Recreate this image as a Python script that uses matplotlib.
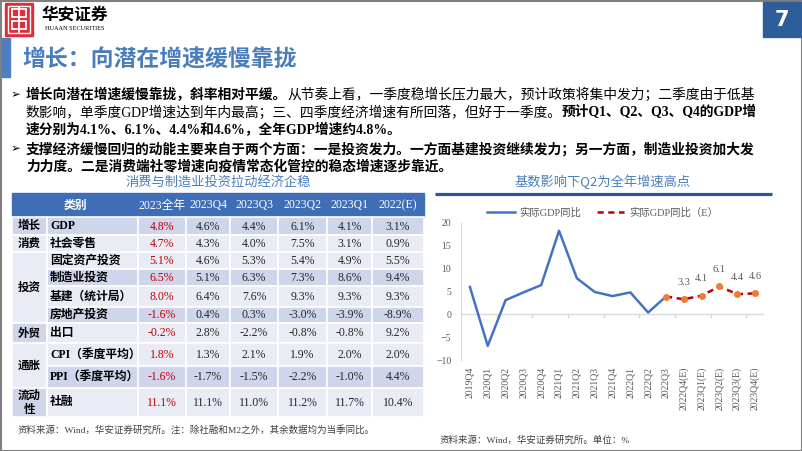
import matplotlib
matplotlib.use("Agg")
import matplotlib.pyplot as plt
from matplotlib.patches import Rectangle

CJK = "Noto Sans CJK SC"
MIX = ["Liberation Serif", "Noto Sans CJK SC"]
plt.rcParams["font.family"] = MIX

# ---- data ----
bullet_lines = [
    [("增长向潜在增速缓慢靠拢，斜率相对平缓。", True),
     ("从节奏上看，一季度稳增长压力最大，预计政策将集中发力；二季度由于低基", False)],
    [("数影响，单季度GDP增速达到年内最高；三、四季度经济增速有所回落，但好于一季度。", False),
     ("预计Q1、Q2、Q3、Q4的GDP增", True)],
    [("速分别为4.1%、6.1%、4.4%和4.6%，全年GDP增速约4.8%。", True)],
    [("支撑经济缓慢回归的动能主要来自于两个方面：一是投资发力。一方面基建投资继续发力；另一方面，制造业投资加大发", True)],
    [("力力度。二是消费端社零增速向疫情常态化管控的稳态增速逐步靠近。", True)],
]
bullet_starts = [True, False, False, True, False]

table_groups = ["增长", "消费", "投资", "外贸", "通胀", "流动\n性"]
group_sizes = [1, 1, 4, 1, 2, 1]
table_items = ["GDP", "社会零售", "固定资产投资", "制造业投资", "基建（统计局）",
               "房地产投资", "出口", "CPI（季度平均）", "PPI（季度平均）", "社融"]
table_columns = ["2023全年", "2023Q4", "2023Q3", "2023Q2", "2023Q1", "2022(E)"]
full_2023 = [4.8, 4.7, 5.1, 6.5, 8.0, -1.6, -0.2, 1.8, -1.6, 11.1]
q4_2023 = [4.6, 4.3, 4.6, 5.1, 6.4, 0.4, 2.8, 1.3, -1.7, 11.1]
q3_2023 = [4.4, 4.0, 5.3, 6.3, 7.6, 0.3, -2.2, 2.1, -1.5, 11.0]
q2_2023 = [6.1, 7.5, 5.4, 7.3, 9.3, -3.0, -0.8, 1.9, -2.2, 11.2]
q1_2023 = [4.1, 3.1, 4.9, 8.6, 9.3, -3.9, -0.8, 2.0, -1.0, 11.7]
est_2022 = [3.1, 0.9, 5.5, 9.4, 9.3, -8.9, 9.2, 2.0, 4.4, 10.4]
table_values = [full_2023, q4_2023, q3_2023, q2_2023, q1_2023, est_2022]

quarters = ["2019Q4", "2020Q1", "2020Q2", "2020Q3", "2020Q4", "2021Q1", "2021Q2",
            "2021Q3", "2021Q4", "2022Q1", "2022Q2", "2022Q3", "2022Q4(E)",
            "2023Q1(E)", "2023Q2(E)", "2023Q3(E)", "2023Q4(E)"]
gdp_actual = [6.0, -6.9, 3.1, 4.8, 6.4, 18.3, 7.9, 4.9, 4.0, 4.8, 0.4, 3.9]
gdp_forecast = [3.9, 3.3, 4.1, 6.1, 4.4, 4.6]

# ---- layout / styles ----
BLUE_TXT = "#4A7EBB"
DARK = "#CFD5EA"
LIGHT = "#E9EBF5"
row_shade = [DARK, LIGHT, LIGHT, DARK, LIGHT, DARK, LIGHT, LIGHT, DARK, LIGHT]
group_shade = [DARK, LIGHT, LIGHT, DARK, LIGHT, DARK]
col_edges = [12, 47, 138, 186, 230, 278, 327, 372, 424]
row_edges = [193, 217, 235, 252, 269, 286, 307, 323, 343, 366, 388, 417]

fig = plt.figure(figsize=(8.02, 4.51), dpi=100)
bg = fig.add_axes([0, 0, 1, 1])
bg.set_xlim(0, 802)
bg.set_ylim(451, 0)
bg.axis("off")

# frame
bg.add_patch(Rectangle((0.5, 0.5), 801, 450, fill=False, ec="#808080", lw=1.5))

# logo
bg.add_patch(Rectangle((5, 3), 28, 33, color="#E02D3C"))
bg.add_patch(Rectangle((8, 6), 22, 27, fill=False, ec="white", lw=1.0))
bg.add_patch(Rectangle((12, 9), 14, 8, fill=False, ec="white", lw=1.3))
bg.add_patch(Rectangle((12, 21), 14, 8, fill=False, ec="white", lw=1.3))
bg.plot([19, 19], [7, 32], color="white", lw=1.3)
bg.text(42, 15, "华安证券", family=CJK, fontsize=12, fontweight="bold", va="center", ha="left")
bg.text(45, 29, "HUAAN SECURITIES", family="Liberation Serif", fontsize=4.5, va="center", ha="left")

# page number
bg.add_patch(Rectangle((763, 2), 38, 35, color="#2E5E9A"))
bg.text(782, 19.5, "7", family="DejaVu Sans", fontsize=15, fontweight="bold",
        color="white", ha="center", va="center")

# title
bg.add_patch(Rectangle((2, 38), 8, 39, color="#4F7FC0"))
bg.text(22, 60, "增长：向潜在增速缓慢靠拢", family=CJK, fontsize=16.5, fontweight="bold",
        color=BLUE_TXT, va="center", ha="left")

# bullet text
fig.canvas.draw()
renderer = fig.canvas.get_renderer()
inv = bg.transData.inverted()
line_y = [95, 112.5, 130, 149, 166.5]
for parts, start, y in zip(bullet_lines, bullet_starts, line_y):
    if start:
        bg.text(11, y, "➢", family="DejaVu Sans", fontsize=8.5, va="center", ha="left")
    x = 26
    for txt, bold in parts:
        t = bg.text(x, y, txt, fontsize=9.9, fontweight="bold" if bold else "normal",
                    va="center", ha="left", color="black")
        bb = t.get_window_extent(renderer)
        x = inv.transform((bb.x1, bb.y0))[0]

# table
bg.text(218, 182, "消费与制造业投资拉动经济企稳", family=CJK, fontsize=9.5,
        color=BLUE_TXT, ha="center", va="center")
bg.add_patch(Rectangle((col_edges[0], row_edges[0]), col_edges[-1] - col_edges[0],
                       row_edges[1] - row_edges[0], color="#3F6EB7"))
bg.text((col_edges[0] + col_edges[2]) / 2, (row_edges[0] + row_edges[1]) / 2, "类别",
        family=CJK, fontsize=8.5, fontweight="bold", color="white", ha="center", va="center")
for j, name in enumerate(table_columns):
    xc = (col_edges[j + 2] + col_edges[j + 3]) / 2
    bg.text(xc, (row_edges[0] + row_edges[1]) / 2 + 0.5, name, fontsize=8.5,
            color="white", ha="center", va="center")

r = 0
for g, (label, n) in enumerate(zip(table_groups, group_sizes)):
    y0, y1 = row_edges[r + 1], row_edges[r + 1 + n]
    bg.add_patch(Rectangle((col_edges[0], y0), col_edges[1] - col_edges[0], y1 - y0,
                           fc=group_shade[g], ec="white", lw=1.2))
    bg.text((col_edges[0] + col_edges[1]) / 2, (y0 + y1) / 2, label, family=CJK,
            fontsize=8.3, fontweight="bold", ha="center", va="center", linespacing=1.1)
    r += n

for i, item in enumerate(table_items):
    y0, y1 = row_edges[i + 1], row_edges[i + 2]
    yc = (y0 + y1) / 2
    for c in range(1, len(col_edges) - 1):
        bg.add_patch(Rectangle((col_edges[c], y0), col_edges[c + 1] - col_edges[c], y1 - y0,
                               fc=row_shade[i], ec="white", lw=1.2))
    bg.text(col_edges[1] + 3, yc, item, fontsize=8.5, fontweight="bold",
            ha="left", va="center")
    for j, col in enumerate(table_values):
        xc = (col_edges[j + 2] + col_edges[j + 3]) / 2
        bg.text(xc, yc + 0.5, f"{col[i]:.1f}%", fontsize=8.5,
                color="#C00000" if j == 0 else "#262626", ha="center", va="center")

bg.text(17, 430, "资料来源：Wind，华安证券研究所。注：除社融和M2之外，其余数据均为当季同比。",
        fontsize=6.8, color="#404040", ha="left", va="center")

# right chart header
bg.text(603, 182, "基数影响下Q2为全年增速高点", family=CJK, fontsize=9.5,
        color=BLUE_TXT, ha="center", va="center")
bg.plot([435, 772], [194, 194], color="#2F5597", lw=2.3, solid_capstyle="butt")
bg.text(440, 440, "资料来源：Wind，华安证券研究所。单位：%", fontsize=6.8,
        color="#404040", ha="left", va="center")

# line chart
ax = fig.add_axes([461 / 802, 1 - 360 / 451, 303 / 802, 137 / 451])
ax.patch.set_alpha(0)
xs = list(range(len(quarters)))
n_act = len(gdp_actual)
ax.plot(xs[:n_act], gdp_actual, color="#4472C4", lw=1.8, label="实际GDP同比", zorder=3)
fx = xs[n_act - 1:n_act - 1 + len(gdp_forecast)]
ax.plot(fx, gdp_forecast, color="#C00000", lw=1.8, dashes=(2.5, 1.8),
        label="实际GDP同比（E）", zorder=3)
ax.plot(fx, gdp_forecast, ls="none", marker="o", ms=4, color="#ED7D31", zorder=4)
for xv, yv in zip(fx[1:], gdp_forecast[1:]):
    ax.annotate(f"{yv:.1f}", (xv, yv), xytext=(0, 9), textcoords="offset points",
                ha="center", va="bottom", fontsize=7.5, color="#595959")

ax.set_xlim(-0.5, len(quarters) - 0.5)
ax.set_ylim(-10, 20)
ax.set_yticks([-10, -5, 0, 5, 10, 15, 20])
ax.set_xticks(xs)
ax.set_xticklabels(quarters, rotation=90)
ax.tick_params(axis="both", length=0, labelsize=7, labelcolor="#595959")
ax.tick_params(axis="y", pad=7)
ax.tick_params(axis="x", pad=5)
for s in ["top", "right", "bottom"]:
    ax.spines[s].set_visible(False)
ax.spines["left"].set_color("#D9D9D9")
ax.axhline(0, color="#D9D9D9", lw=1, zorder=1)
ax.vlines([k - 0.5 for k in range(0, len(quarters) + 1, 2)], -0.9, 0, color="#D9D9D9", lw=1)

leg = ax.legend(loc="center", bbox_to_anchor=(603 / 802, 1 - 213 / 451),
                bbox_transform=fig.transFigure, ncol=2, frameon=False, fontsize=7.5,
                handlelength=2.6, columnspacing=1.5, handletextpad=0.5)
for t in leg.get_texts():
    t.set_color("#595959")

fig.savefig("out.png", dpi=100)
